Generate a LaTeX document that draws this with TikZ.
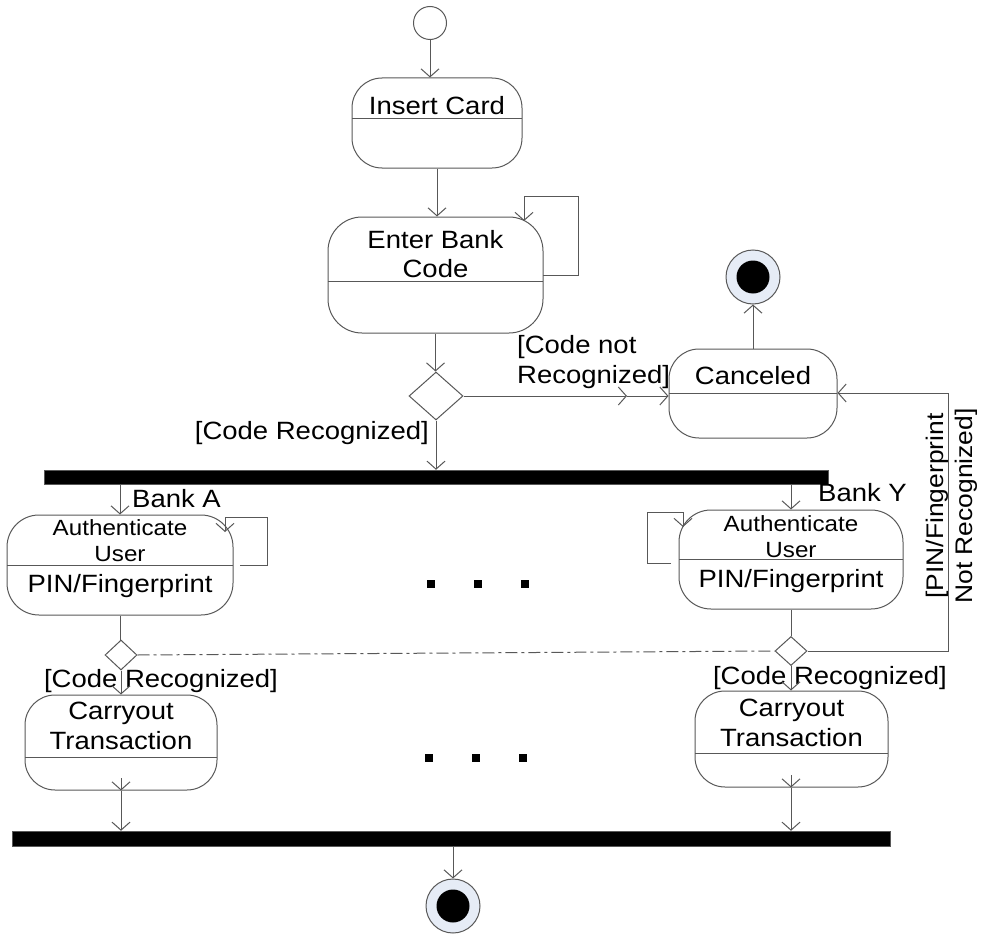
\documentclass[tikz,border=0pt]{standalone}
\usepackage{fontspec}
\setmainfont[FakeStretch=1.1]{Liberation Sans}
\usetikzlibrary{arrows.meta,shapes.geometric}
\definecolor{finfill}{HTML}{E6ECF6}
\definecolor{ln}{HTML}{585858}
\begin{document}
\begin{tikzpicture}[x=1pt,y=-1pt,
  line/.style={draw=ln, line width=1pt},
  arr/.style={line, -{Straight Barb[length=8pt,width=18pt,line width=1pt]}},
  state/.style={draw=ln, line width=1pt, rounded corners=30pt, inner sep=0pt},
  txt/.style={font=\fontsize{25}{30}\selectfont, inner sep=0pt, align=center},
  small/.style={font=\fontsize{22}{26}\selectfont, inner sep=0pt, align=center},
  bar/.style={fill=black, draw=ln, inner sep=0pt},
  dec/.style={draw=ln, line width=1pt, diamond, inner sep=0pt},
  sq/.style={fill=black, minimum size=8pt, inner sep=0pt},
  startst/.style={circle, draw=ln, line width=1pt, inner sep=0pt, minimum size=33pt},
  endst/.style={circle, draw=ln, line width=1pt, fill=finfill, inner sep=0pt, minimum size=54pt},
  endin/.style={circle, fill=black, inner sep=0pt, minimum size=33pt},
]
\useasboundingbox (0,0) rectangle (986,934);

% start
\node[startst] (init) at (430,23) {};

% Insert Card
\node[state, minimum width=170pt, minimum height=90pt] (ic) at (437,123) {};
\node[txt] (ict) at (437,106) {Insert Card};
\draw[line] (352,118) -- (522,118);

% Enter Bank Code
\node[state, minimum width=215pt, minimum height=116pt, rounded corners=34pt] (ebc) at (435.5,275) {};
\node[txt, font=\fontsize{25}{29}\selectfont] (ebct) at (435.5,254.5) {Enter Bank\\Code};
\draw[line] (328,281) -- (543,281);

% decision 1
\node[dec, minimum width=54pt, minimum height=48pt] (d1) at (436,396) {};

% Canceled
\node[state, minimum width=168pt, minimum height=89pt] (can) at (753,393.5) {};
\node[txt] (cant) at (753,376) {Canceled};
\draw[line] (669,393) -- (837,393);

% final 1
\node[endst] (f1) at (753,277) {};
\node[endin] (f1i) at (753,277) {};

% bar 1
\node[bar, minimum width=784pt, minimum height=14pt] (bar1) at (436,477) {};

% Authenticate A
\node[state, minimum width=226pt, minimum height=100pt, rounded corners=32pt] (authA) at (120,565) {};
\node[small] (authAt) at (120,541) {Authenticate\\User};
\node[txt] (authAp) at (120,586) {PIN/Fingerprint};
\draw[line] (7,565) -- (233,565);

% Authenticate Y
\node[state, minimum width=224pt, minimum height=99pt, rounded corners=32pt] (authY) at (791,559.5) {};
\node[small] (authYt) at (791,537) {Authenticate\\User};
\node[txt] (authYp) at (791,581) {PIN/Fingerprint};
\draw[line] (679,559) -- (903,559);

% decisions
\node[dec, minimum width=32pt, minimum height=30pt] (dA) at (121,655) {};
\node[dec, minimum width=32pt, minimum height=29pt] (dY) at (791,651) {};

% Carryout A
\node[state, minimum width=192pt, minimum height=95pt] (cA) at (121,742.5) {};
\node[txt] (cAt) at (121,726) {Carryout\\Transaction};
\draw[line] (25,757) -- (217,757);

% Carryout Y
\node[state, minimum width=193pt, minimum height=96pt] (cY) at (791.5,739) {};
\node[txt] (cYt) at (791.5,722.5) {Carryout\\Transaction};
\draw[line] (695,753) -- (888,753);

% bar 2
\node[bar, minimum width=878pt, minimum height=15pt] (bar2) at (451,838.5) {};

% final 2
\node[endst] (f2) at (453,906) {};
\node[endin] (f2i) at (453,906) {};

% dots
\node[sq] (s1) at (431,584) {};
\node[sq] (s2) at (478,584) {};
\node[sq] (s3) at (525,584) {};
\node[sq] (s4) at (429,758) {};
\node[sq] (s5) at (476,758) {};
\node[sq] (s6) at (523,758) {};

% labels
\node[txt, align=left, anchor=west] (lbl1) at (517,362) {[Code not\\Recognized]};
\node[txt, anchor=east] (lbl2) at (429,433) {[Code Recognized]};
\node[txt, anchor=west] (lblA) at (132,499) {Bank A};
\node[txt, anchor=west] (lblY) at (818,493) {Bank Y};
\node[txt] (lblCA) at (161,681) {[Code Recognized]};
\node[txt] (lblCY) at (830,678) {[Code Recognized]};
\node[txt, font=\fontsize{24}{29}\selectfont, rotate=90] (lblR) at (952,506) {[PIN/Fingerprint\\Not Recognized]};

% connectors
\draw[arr] (init.south) -- (init.south |- ic.north);
\draw[arr] (ic.south) -- (ic.south |- ebc.north);
\draw[arr] (543,275) -- (578,275) -- (578,196) -- (524,196) -- (524,221);
\draw[arr] (ebc.south) -- (ebc.south |- d1.north);
\coordinate (m1) at (627,396);
\draw[arr] (d1.east) -- (m1);
\draw[arr] (m1) -- (m1 -| can.west);
\draw[arr] (can.north) -- (f1.south);
\draw[arr] (d1.south) -- (d1.south |- bar1.north);

\draw[arr] (authA.north |- bar1.south) -- (authA.north);
\draw[arr] (authY.north |- bar1.south) -- (authY.north);
\draw[arr] (240,565) -- (267,565) -- (267,517) -- (225,517) -- (225,532);
\draw[arr] (671,563) -- (647,563) -- (647,512) -- (683,512) -- (683,527);

\draw[line] (authA.south) -- (authA.south |- dA.north);
\draw[line] (authY.south) -- (authY.south |- dY.north);
\draw[line, dash pattern=on 12pt off 4pt on 3pt off 4pt] (dA.east) -- (dY.west);
\coordinate (rc) at (948,393);
\draw[arr] (dY.east) -- (rc |- dY.east) -- (rc) -- (rc -| can.east);

\draw[arr] (dA.south) -- (dA.south |- cA.north);
\draw[arr] (dY.south) -- (dY.south |- cY.north);

\coordinate (cAi) at (121,778);
\coordinate (cYi) at (791,775);
\draw[arr] (cAi) -- (cA.south);
\draw[arr] (cA.south) -- (cA.south |- bar2.north);
\draw[arr] (cYi) -- (cYi |- cY.south);
\draw[arr] (cYi |- cY.south) -- (cYi |- bar2.north);
\draw[arr] (f2.north |- bar2.south) -- (f2.north);
\end{tikzpicture}
\end{document}
